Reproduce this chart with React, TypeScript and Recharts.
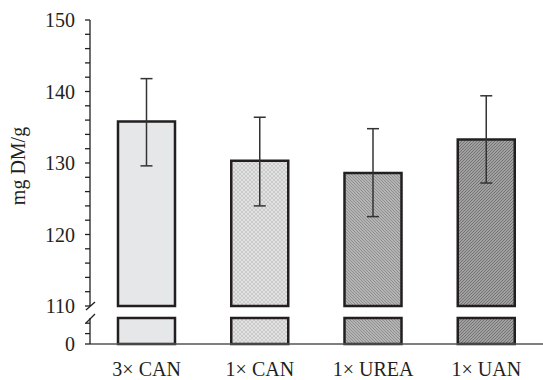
import { BarChart, Bar, XAxis, YAxis, Cell, ErrorBar, Label } from 'recharts';

const CATEGORIES = ['3× CAN', '1× CAN', '1× UREA', '1× UAN'];
const MEANS = [135.8, 130.3, 128.6, 133.3];
const ERR_UP = [6.0, 6.1, 6.2, 6.1];
const ERR_DOWN = [6.2, 6.3, 6.1, 6.1];

const Y_TICKS = [110, 112, 114, 116, 118, 120, 122, 124, 126, 128, 130, 132, 134, 136, 138, 140, 142, 144, 146, 148, 150];
const Y_LABELS = [110, 120, 130, 140, 150];
const LOW_TICKS = [0, 4, 8];
const LOW_MAX = 10;

const FILLS = ['#e6e7e8', 'url(#crossHatch)', 'url(#hatchBack)', 'url(#hatchFwd)'];

const INK = '#231f20';
const FONT = '"Liberation Serif", "Times New Roman", serif';

const data = CATEGORIES.map((name, i) => ({
  name,
  value: MEANS[i],
  stub: Math.min(MEANS[i], LOW_MAX),
  err: [ERR_DOWN[i], ERR_UP[i]],
}));

const tickStyle = { fontFamily: FONT, fontSize: 20, fill: INK };

function Patterns() {
  return (
    <defs>
      <pattern id="crossHatch" width="4" height="4" patternUnits="userSpaceOnUse">
        <rect width="4" height="4" fill="#cbcbcb" />
        <path d="M0,0 L4,4 M4,0 L0,4" stroke="#e4e4e4" strokeWidth="0.9" />
      </pattern>
      <pattern id="hatchBack" width="3" height="3" patternUnits="userSpaceOnUse">
        <rect width="3" height="3" fill="#b4b4b4" />
        <path d="M0,0 L3,3 M-1,2 L1,4 M2,-1 L4,1" stroke="#8c8c8c" strokeWidth="0.9" />
      </pattern>
      <pattern id="hatchFwd" width="3" height="3" patternUnits="userSpaceOnUse">
        <rect width="3" height="3" fill="#a0a0a0" />
        <path d="M0,3 L3,0 M-1,1 L1,-1 M2,4 L4,2" stroke="#707070" strokeWidth="0.9" />
      </pattern>
    </defs>
  );
}

export default function App() {
  return (
    <div style={{ position: 'absolute', left: 0, top: 0, width: 543, height: 380, background: '#fff' }}>
      <div style={{ position: 'absolute', left: 0, top: 312 }}>
        <BarChart width={543} height={68} data={data} margin={{ top: 6, right: 0, bottom: 0, left: 0 }}>
          <Patterns />
          <XAxis
            dataKey="name"
            height={36}
            tickLine={false}
            tickSize={0}
            tickMargin={18}
            tick={tickStyle}
            axisLine={{ stroke: '#555', strokeWidth: 1.5 }}
          />
          <YAxis
            width={90}
            domain={[0, LOW_MAX]}
            ticks={LOW_TICKS}
            interval={0}
            tickFormatter={(v: number) => (v === 0 ? '0' : '')}
            tickSize={5}
            tickMargin={10}
            tick={tickStyle}
            axisLine={{ stroke: INK, strokeWidth: 1.3 }}
            tickLine={{ stroke: INK, strokeWidth: 1.3 }}
          />
          <Bar dataKey="stub" barSize={57} stroke={INK} strokeWidth={2.5} isAnimationActive={false}>
            {data.map((d, i) => (
              <Cell key={d.name} fill={FILLS[i]} />
            ))}
          </Bar>
        </BarChart>
      </div>

      <div style={{ position: 'absolute', left: 0, top: 0 }}>
        <BarChart width={543} height={330} data={data} margin={{ top: 20, right: 0, bottom: 24, left: 0 }}>
          <Patterns />
          <XAxis dataKey="name" hide />
          <YAxis
            width={90}
            domain={[110, 150]}
            ticks={Y_TICKS}
            interval={0}
            tickFormatter={(v: number) => (Y_LABELS.includes(v) ? String(v) : '')}
            tickSize={5}
            tickMargin={10}
            tick={tickStyle}
            axisLine={{ stroke: INK, strokeWidth: 1.3 }}
            tickLine={{ stroke: INK, strokeWidth: 1.3 }}
          >
            <Label
              content={({ viewBox }: any) => {
                const cy = viewBox.y + viewBox.height / 2 + 3;
                return (
                  <text
                    x={18}
                    y={cy}
                    transform={`rotate(-90, 18, ${cy})`}
                    textAnchor="middle"
                    dominantBaseline="central"
                    fontFamily={FONT}
                    fontSize={20}
                    fill={INK}
                  >
                    mg DM/g
                  </text>
                );
              }}
            />
          </YAxis>
          <Bar dataKey="value" barSize={57} stroke={INK} strokeWidth={2.5} isAnimationActive={false}>
            {data.map((d, i) => (
              <Cell key={d.name} fill={FILLS[i]} />
            ))}
            <ErrorBar dataKey="err" width={6} stroke="#333" strokeWidth={1.5} direction="y" />
          </Bar>
        </BarChart>
      </div>

      <svg width={543} height={380} style={{ position: 'absolute', left: 0, top: 0, pointerEvents: 'none' }}>
        <line x1={86} y1={310} x2={95} y2={302} stroke={INK} strokeWidth={1.3} />
        <line x1={86} y1={323} x2={95} y2={314} stroke={INK} strokeWidth={1.3} />
      </svg>
    </div>
  );
}
